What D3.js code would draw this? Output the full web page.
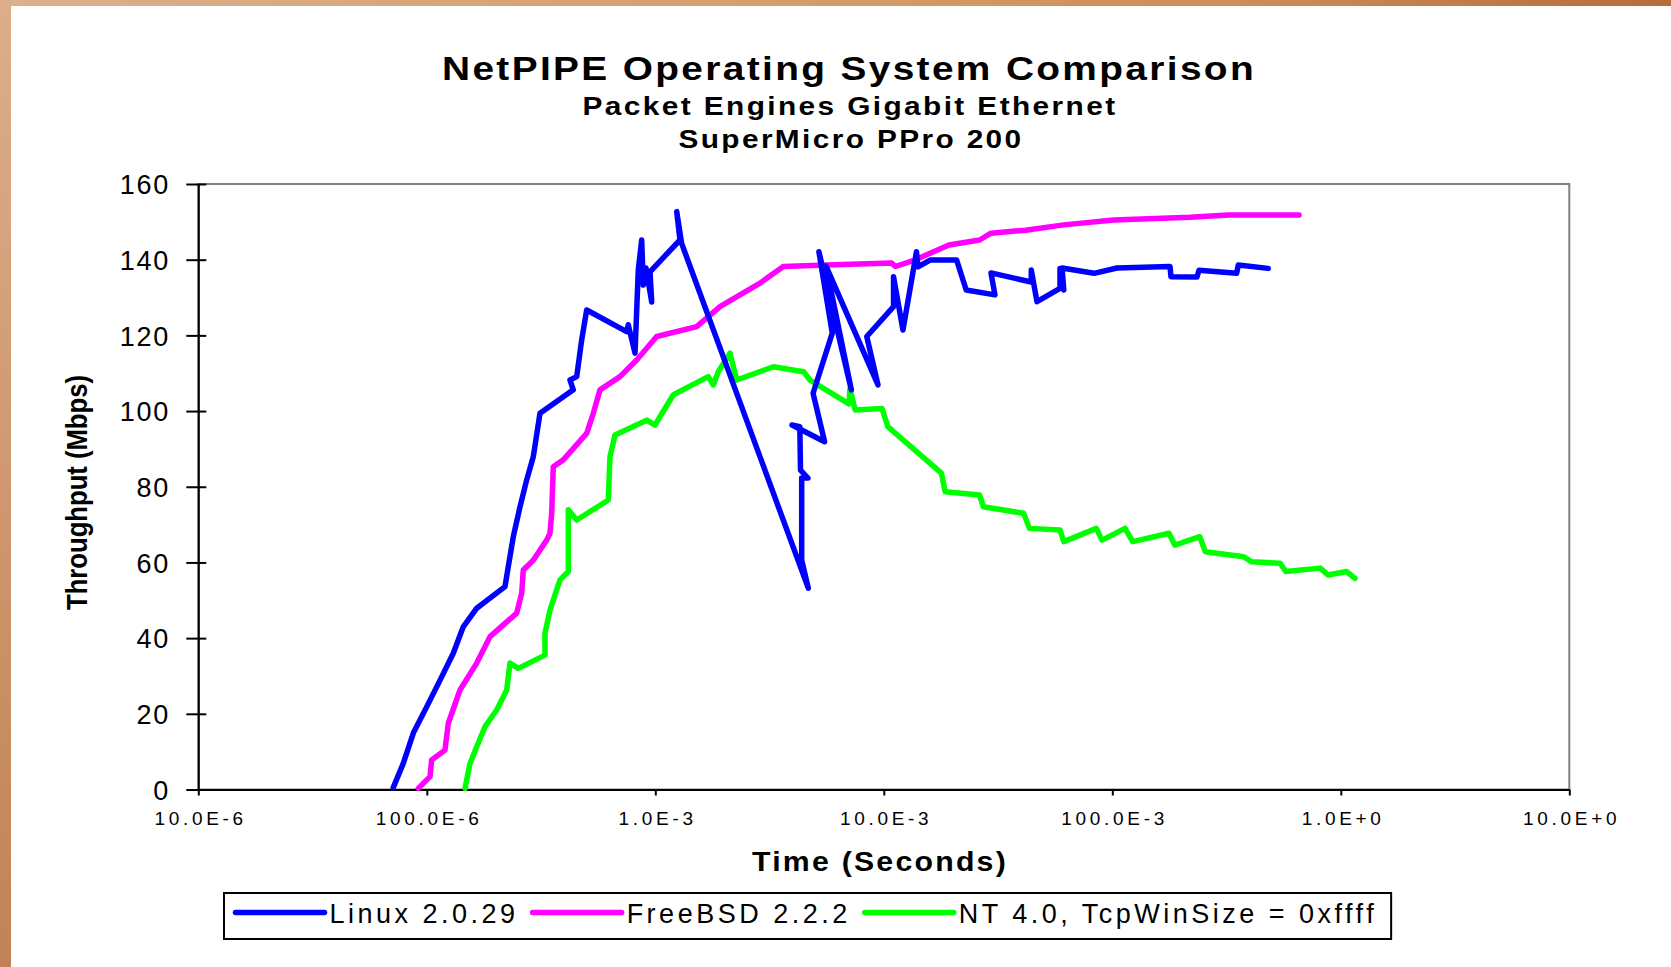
<!DOCTYPE html>
<html>
<head>
<meta charset="utf-8">
<script src="https://cdn.jsdelivr.net/npm/d3@7"></script>
<style>
  html, body { margin: 0; padding: 0; background: #fff; }
  svg { display: block; font-family: "Liberation Sans", Arial, sans-serif; }
</style>
</head>
<body>
<div id="chart"></div>
<script>
// ---- data ----
const xTickValues = [1e-5, 1e-4, 1e-3, 1e-2, 1e-1, 1, 10];
const xTickLabels = ["10.0E-6", "100.0E-6", "1.0E-3", "10.0E-3", "100.0E-3", "1.0E+0", "10.0E+0"];
const yTickValues = [0, 20, 40, 60, 80, 100, 120, 140, 160];

const seriesNames = ["Linux 2.0.29", "FreeBSD 2.2.2", "NT 4.0, TcpWinSize = 0xffff"];
const seriesColors = ["#0000ff", "#ff00ff", "#00ff00"];

// Linux 2.0.29 : time (s), throughput (Mbps)
const linuxTime = [7.13e-5, 7.89e-5, 8.73e-5, 1.00e-4, 1.143e-4, 1.306e-4, 1.444e-4, 1.654e-4, 2.199e-4, 2.273e-4,
  2.391e-4, 2.558e-4, 2.736e-4, 2.924e-4, 3.128e-4, 4.376e-4, 4.233e-4, 4.529e-4, 4.763e-4, 5.009e-4,
  7.494e-4, 7.616e-4, 8.151e-4, 8.425e-4, 8.719e-4, 8.861e-4, 9.105e-4, 9.645e-4, 9.48e-4, 1.282e-3,
  1.241e-3, 1.304e-3, 4.672e-3, 4.372e-3, 4.372e-3, 4.658e-3, 4.319e-3, 4.290e-3, 3.964e-3, 5.507e-3,
  4.904e-3, 5.95e-3, 5.2e-3, 7.21e-3, 5.587e-3, 9.43e-3, 8.425e-3, 1.103e-2, 1.103e-2, 1.213e-2,
  1.39e-2, 1.411e-2, 1.593e-2, 2.084e-2, 2.294e-2, 3.066e-2, 2.945e-2, 4.42e-2, 4.42e-2, 4.682e-2,
  5.904e-2, 5.904e-2, 6.134e-2, 6.025e-2, 8.317e-2, 0.1048, 0.1789, 0.1806, 0.2348, 0.2396,
  0.3502, 0.3559, 0.4816];
const linuxMbps = [0.5, 6.9, 14.9, 21.9, 28.9, 36.0, 43.0, 47.9, 53.6, 58.9,
  66.8, 74.7, 81.8, 87.9, 99.4, 105.6, 108.2, 109.1, 118.8, 126.7,
  121.0, 122.8, 115.3, 137.3, 145.2, 133.3, 137.8, 128.8, 136.8, 145.2,
  152.7, 144.3, 53.2, 60.6, 82.3, 82.3, 84.4, 95.9, 96.3, 91.9,
  104.7, 120.6, 142.1, 105.6, 138.3, 106.9, 119.7, 127.6, 135.5, 121.4,
  142.1, 138.1, 139.9, 139.9, 132.0, 130.7, 136.5, 134.1, 137.3, 128.9,
  132.4, 137.7, 132.0, 137.8, 136.4, 137.8, 138.2, 135.5, 135.4, 137.2,
  136.4, 138.6, 137.7];

// FreeBSD 2.2.2
const bsdTime = [9.18e-5, 1.033e-4, 1.05e-4, 1.201e-4, 1.242e-4, 1.397e-4, 1.654e-4, 1.891e-4, 2.474e-4, 2.602e-4,
  2.644e-4, 2.924e-4, 3.346e-4, 3.46e-4, 3.52e-4, 3.577e-4, 3.957e-4, 5.009e-4, 5.354e-4, 5.728e-4,
  7.007e-4, 8.29e-4, 1.014e-3, 1.517e-3, 1.919e-3, 2.872e-3, 3.633e-3, 5.614e-3, 1.082e-2, 1.124e-2,
  1.364e-2, 1.929e-2, 2.626e-2, 2.945e-2, 4.17e-2, 6.134e-2, 0.1013, 0.2189, 0.3221, 0.6564];
const bsdMbps = [0.3, 3.4, 7.8, 10.4, 17.5, 26.3, 33.4, 40.4, 46.6, 51.9,
  58.0, 60.6, 65.9, 67.7, 73.0, 85.3, 87.1, 94.1, 99.4, 105.6,
  109.1, 113.5, 119.7, 122.3, 127.6, 133.8, 138.2, 138.6, 139.1, 138.2,
  139.9, 143.9, 145.2, 147.0, 147.8, 149.2, 150.5, 151.2, 151.8, 151.8];

// NT 4.0, TcpWinSize = 0xffff
const ntTime = [1.47e-4, 1.546e-4, 1.654e-4, 1.798e-4, 2.022e-4, 2.237e-4, 2.312e-4, 2.514e-4, 3.29e-4, 3.29e-4,
  3.46e-4, 3.827e-4, 4.162e-4, 4.162e-4, 4.529e-4, 6.226e-4, 6.334e-4, 6.66e-4, 9.17e-4, 9.97e-4,
  1.048e-3, 1.2e-3, 1.705e-3, 1.794e-3, 1.886e-3, 2.122e-3, 2.271e-3, 3.284e-3, 4.457e-3, 4.753e-3,
  7.04e-3, 7.11e-3, 7.49e-3, 9.82e-3, 1.041e-2, 1.787e-2, 1.856e-2, 2.626e-2, 2.728e-2, 4.091e-2,
  4.337e-2, 5.904e-2, 6.134e-2, 8.511e-2, 9.016e-2, 0.1137, 0.1228, 0.1771, 0.1877, 0.2413,
  0.2556, 0.3759, 0.4058, 0.5419, 0.5745, 0.8127, 0.878, 1.061, 1.154];
const ntMbps = [0.3, 6.9, 11.3, 16.6, 21.0, 26.3, 33.4, 32.0, 35.5, 41.3,
  47.4, 55.4, 57.6, 73.9, 71.2, 76.5, 87.9, 93.7, 97.6, 96.3,
  98.5, 104.3, 109.1, 106.9, 110.4, 115.3, 108.2, 111.7, 110.4, 108.2,
  101.9, 105.9, 100.3, 100.7, 95.9, 83.6, 78.7, 77.8, 74.7, 73.0,
  69.0, 68.6, 65.5, 69.0, 65.9, 69.0, 65.5, 67.7, 64.6, 66.8,
  62.8, 61.5, 60.2, 59.8, 57.6, 58.5, 56.7, 57.6, 55.8];

// ---- layout ----
const WIDTH = 1671;
const HEIGHT = 967;
const PLOT = { left: 198.3, right: 1569.3, top: 184, bottom: 789.5 };
const LINE_W = 5.5;

const series = [
  { name: seriesNames[0], color: seriesColors[0], values: linuxTime.map((t, i) => ({ t: t, v: linuxMbps[i] })) },
  { name: seriesNames[1], color: seriesColors[1], values: bsdTime.map((t, i) => ({ t: t, v: bsdMbps[i] })) },
  { name: seriesNames[2], color: seriesColors[2], values: ntTime.map((t, i) => ({ t: t, v: ntMbps[i] })) }
];

const svg = d3.select("#chart")
  .append("svg")
  .attr("width", WIDTH)
  .attr("height", HEIGHT);

// background with the brownish frame on top and left
const defs = svg.append("defs");
const topGrad = defs.append("linearGradient").attr("id", "topGrad")
  .attr("x1", 0).attr("x2", 1).attr("y1", 0).attr("y2", 0);
[["0%", "#dcb08c"], ["45%", "#d59e6e"], ["75%", "#cd8d57"], ["100%", "#b66c3a"]]
  .forEach(s => topGrad.append("stop").attr("offset", s[0]).attr("stop-color", s[1]));
const leftGrad = defs.append("linearGradient").attr("id", "leftGrad")
  .attr("x1", 0).attr("x2", 0).attr("y1", 0).attr("y2", 1);
[["0%", "#dcae8a"], ["100%", "#c28255"]]
  .forEach(s => leftGrad.append("stop").attr("offset", s[0]).attr("stop-color", s[1]));

svg.append("rect").attr("width", WIDTH).attr("height", HEIGHT).attr("fill", "#fff");
svg.append("rect").attr("x", 0).attr("y", 0).attr("width", WIDTH).attr("height", 6).attr("fill", "url(#topGrad)");
svg.append("rect").attr("x", 0).attr("y", 0).attr("width", 11).attr("height", HEIGHT).attr("fill", "url(#leftGrad)");

// scales
const x = d3.scaleLog().domain([1e-5, 10]).range([PLOT.left, PLOT.right]);
const y = d3.scaleLinear().domain([0, 160]).range([PLOT.bottom, PLOT.top]);

// plot frame (grey top/right)
svg.append("rect")
  .attr("x", PLOT.left).attr("y", PLOT.top)
  .attr("width", PLOT.right - PLOT.left).attr("height", PLOT.bottom - PLOT.top)
  .attr("fill", "#fff").attr("stroke", "#808080").attr("stroke-width", 2);

// titles: wide old-style text, a bit of spacing then stretched to the measured width
function addText(txt, tx, ty, size, len) {
  return svg.append("text")
    .attr("x", tx).attr("y", ty)
    .attr("text-anchor", "middle")
    .attr("font-size", size)
    .attr("font-weight", "bold")
    .attr("letter-spacing", 2)
    .attr("textLength", len)
    .attr("lengthAdjust", "spacingAndGlyphs")
    .attr("fill", "#000")
    .text(txt);
}
addText("NetPIPE Operating System Comparison", 849, 80, 33, 814);
addText("Packet Engines Gigabit Ethernet", 850, 115, 25, 535);
addText("SuperMicro PPro 200", 851, 148, 25, 345);
addText("Time (Seconds)", 880, 871, 27, 256);

svg.append("text")
  .attr("transform", "translate(87,492.5) rotate(-90)")
  .attr("text-anchor", "middle")
  .attr("font-size", 29)
  .attr("font-weight", "bold")
  .attr("textLength", 235)
  .attr("lengthAdjust", "spacingAndGlyphs")
  .text("Throughput (Mbps)");

// y axis
const Y_LS = 1.7;
const yAxisG = svg.append("g")
  .attr("transform", "translate(" + PLOT.left + ",0)")
  .call(d3.axisLeft(y).tickValues(yTickValues).tickSize(12).tickSizeOuter(0));
yAxisG.select(".domain").attr("stroke", "#000").attr("stroke-width", 2);
yAxisG.selectAll(".tick line").attr("x1", 8).attr("x2", -12).attr("stroke", "#000").attr("stroke-width", 2);
yAxisG.selectAll(".tick text")
  .attr("x", -30 + Y_LS)
  .attr("dy", "0.36em")
  .attr("font-size", 27)
  .attr("font-family", "'Liberation Sans', Arial, sans-serif")
  .attr("letter-spacing", Y_LS)
  .attr("fill", "#000");

// x axis
const X_LS = 3.7;
const xAxisG = svg.append("g")
  .attr("transform", "translate(0," + PLOT.bottom + ")")
  .call(d3.axisBottom(x).tickValues(xTickValues)
    .tickFormat((d, i) => xTickLabels[i])
    .tickSize(6).tickSizeOuter(0));
xAxisG.select(".domain").attr("stroke", "#000").attr("stroke-width", 2);
xAxisG.selectAll(".tick line").attr("stroke", "#000").attr("stroke-width", 2);
xAxisG.selectAll(".tick text")
  .attr("y", 35.5)
  .attr("dy", 0)
  .attr("dx", X_LS / 2)
  .attr("font-size", 19)
  .attr("font-family", "'Liberation Sans', Arial, sans-serif")
  .attr("letter-spacing", X_LS)
  .attr("fill", "#000");

// data lines (NT first so Linux ends up on top)
const line = d3.line()
  .x(d => x(d.t))
  .y(d => y(d.v));

svg.append("g")
  .selectAll("path")
  .data(series.slice().reverse())
  .enter()
  .append("path")
  .attr("d", d => line(d.values))
  .attr("fill", "none")
  .attr("stroke", d => d.color)
  .attr("stroke-width", LINE_W)
  .attr("stroke-linejoin", "round")
  .attr("stroke-linecap", "round");

// legend
const LEG_TOP = 893;
const LEG_H = 46;
const LEG_X0 = 224;
const LEG_LINE = 89;
const LEG_LS = 3.5;
const legend = svg.append("g");
const legBox = legend.append("rect")
  .attr("y", LEG_TOP).attr("height", LEG_H)
  .attr("fill", "#fff").attr("stroke", "#000").attr("stroke-width", 2);

let cursor = LEG_X0 + 11.5;
series.forEach(s => {
  legend.append("line")
    .attr("x1", cursor).attr("x2", cursor + LEG_LINE)
    .attr("y1", LEG_TOP + 19.5).attr("y2", LEG_TOP + 19.5)
    .attr("stroke", s.color).attr("stroke-width", LINE_W)
    .attr("stroke-linecap", "round");
  const t = legend.append("text")
    .attr("x", cursor + LEG_LINE + 5)
    .attr("y", LEG_TOP + 29.5)
    .attr("font-size", 27)
    .attr("letter-spacing", LEG_LS)
    .attr("fill", "#000")
    .text(s.name);
  cursor += LEG_LINE + 5 + t.node().getComputedTextLength() + 14;
});
legBox.attr("x", LEG_X0).attr("width", cursor - LEG_X0);
</script>
</body>
</html>
